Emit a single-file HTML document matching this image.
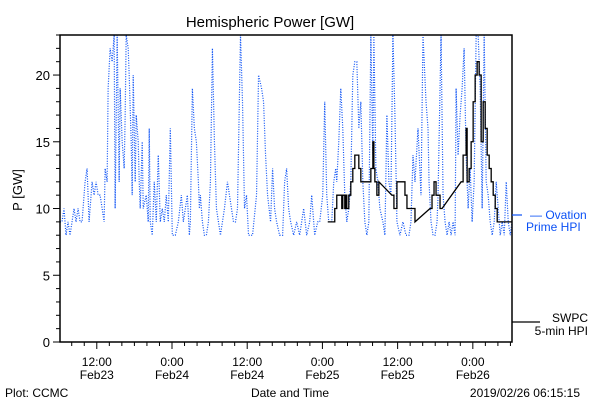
<!DOCTYPE html>
<html><head><meta charset="utf-8"><style>
body{margin:0;background:#fff;}
svg{display:block;font-family:"Liberation Sans",sans-serif;}
</style></head><body>
<svg id="chart" width="600" height="400" viewBox="0 0 600 400">
<rect width="600" height="400" fill="#fff"/>
<text x="270" y="27" font-size="15" text-anchor="middle">Hemispheric Power [GW]</text>
<text x="22" y="190" font-size="13" text-anchor="middle" transform="rotate(-90 22 190)">P [GW]</text>
<text x="290" y="397" font-size="12" text-anchor="middle">Date and Time</text>
<text x="5" y="397" font-size="12">Plot: CCMC</text>
<text x="580" y="397" font-size="12" text-anchor="end">2019/02/26 06:15:15</text>
<defs><clipPath id="pc"><rect x="60" y="35" width="452" height="307"/></clipPath></defs>
<g id="axes"></g>
<g id="series" clip-path="url(#pc)"></g>
<rect x="60" y="35" width="452" height="307" fill="none" stroke="#000" stroke-width="1.5"/>
<g>
<line x1="512" y1="215" x2="522" y2="215" stroke="#0a50f5" stroke-width="1.2"/>
<text x="530" y="219" font-size="12" fill="#0a50f5">— Ovation</text>
<text x="526" y="231" font-size="12" fill="#0a50f5">Prime HPI</text>
</g>
<g>
<line x1="512" y1="322" x2="540" y2="322" stroke="#000" stroke-width="1.2"/>
<text x="588" y="322" font-size="12" text-anchor="end">SWPC</text>
<text x="588" y="335" font-size="12" text-anchor="end">5-min HPI</text>
</g>
</svg>
<script>
// hours since 2019-02-23 00:00
const xDomain = [6.13, 78.25];
const yDomain = [0, 23];
const yTicks = [0, 5, 10, 15, 20];
const xTickHours = [12, 24, 36, 48, 60, 72];
const xTickTimes = ["12:00", "0:00", "12:00", "0:00", "12:00", "0:00"];
const xTickDates = ["Feb23", "Feb24", "Feb24", "Feb25", "Feb25", "Feb26"];
const ovationHours = [6.13,6.45,6.77,7.09,7.41,7.73,8.05,8.37,8.69,9.01,9.33,9.65,10.13,10.45,10.77,11.25,11.57,11.89,12.21,12.53,12.85,13.17,13.33,13.65,13.81,14.13,14.45,14.77,14.93,15.25,15.57,15.73,16.05,16.37,16.53,16.69,17.01,17.17,17.49,17.65,17.81,18.13,18.29,18.61,18.77,18.93,19.25,19.41,19.89,20.21,20.37,20.53,20.85,21.17,21.49,21.81,22.13,22.45,22.77,23.09,23.41,23.73,24.05,24.53,25.01,25.49,25.81,26.13,26.45,26.77,26.93,27.25,27.57,27.89,28.21,28.37,28.53,28.85,29.17,29.49,29.81,30.13,30.45,30.77,31.09,31.41,31.73,32.05,32.37,32.85,33.17,33.49,33.81,34.13,34.45,34.93,35.25,35.57,35.89,36.21,36.85,37.49,37.81,38.29,38.61,38.93,39.25,39.73,40.05,40.37,40.69,41.17,41.65,41.97,42.29,42.61,42.93,43.41,43.89,44.37,45.01,45.49,45.97,46.29,46.77,47.25,47.57,48.05,48.37,48.69,49.01,49.49,49.81,50.13,50.29,50.61,50.93,51.25,51.57,51.89,52.21,52.53,52.85,53.17,53.49,53.81,54.13,54.45,54.77,55.09,55.41,55.73,56.05,56.21,56.53,56.85,57.17,57.65,57.97,58.29,58.61,58.93,59.25,59.57,59.89,60.37,60.85,61.33,61.81,62.13,62.45,62.77,63.25,63.73,64.05,64.53,64.85,65.01,65.33,65.65,65.97,66.29,66.45,66.93,67.25,67.57,67.89,68.21,68.53,68.85,69.17,69.33,69.65,69.97,70.29,70.61,70.93,71.25,71.57,71.89,72.21,72.53,72.85,73.17,73.49,73.81,74.13,74.45,74.77,75.09,75.41,75.73,76.05,76.37,76.69,77.01,77.33,77.65,77.97,78.25];
const ovationValues = [9,9,10,8,9,8,9,10,9,10,9,9,12,13,9,12,11,12,11,11,10,9,13,12,19,22,21,23,10,23,12,19,15,13,17,23,22,20,15,11,20,12,17,15,12,10,15,10,11,9,16,9,8,12,9,14,9,10,9,11,9,16,8,8,9,11,9,10,11,8,9,19,16,15,12,10,11,9,8,8,9,12,22,15,10,9,8,9,10,12,11,10,9,9,10,23,18,10,11,8,8,11,20,19,18,14,11,9,13,10,9,8,8,12,13,10,9,8,9,8,10,8,9,11,8,9,9,11,18,11,9,9,12,13,12,15,19,16,11,9,10,12,20,21,21,16,18,12,9,8,9,23,14,23,13,12,10,9,8,17,12,11,23,17,9,8,9,8,8,9,14,12,16,11,23,18,16,12,9,8,8,9,11,23,11,9,8,9,8,9,8,19,14,17,19,22,14,10,13,9,12,23,23,19,10,23,12,11,9,8,9,12,10,8,9,8,12,9,8,9];
const swpcHours = [48.85,49.97,50.29,51.09,51.25,51.57,51.73,51.89,52.21,52.53,52.85,53.17,53.81,54.13,55.73,56.05,56.21,56.37,56.69,57.01,59.09,59.41,59.89,61.17,61.49,62.77,65.17,65.49,65.81,66.13,66.77,67.09,70.13,70.45,70.93,71.09,71.41,71.73,72.05,72.37,72.69,73.01,73.33,73.65,73.97,74.29,74.61,74.93,75.25,75.57,75.89,78.25];
const swpcValues = [9,10,11,10,11,10,11,10,11,12,13,14,13,12,13,15,13,12,11,12,11,10,12,11,10,9,10,11,12,11,10,10,12,14,16,12,13,15,18,20,21,20,15,18,16,14,13,12,11,10,9,9];

const NS = "http://www.w3.org/2000/svg";
const L = 60, R = 512, T = 35, B = 342;
function xs(h){ return L + (h - xDomain[0]) / (xDomain[1] - xDomain[0]) * (R - L); }
function ys(v){ return B - (v - yDomain[0]) / (yDomain[1] - yDomain[0]) * (B - T); }
function mk(tag, attrs, parent){ const e = document.createElementNS(NS, tag); for (const k in attrs) e.setAttribute(k, attrs[k]); parent.appendChild(e); return e; }

const axes = document.getElementById("axes");
const series = document.getElementById("series");
for (let v = yDomain[0]; v <= yDomain[1]; v++) {
  const major = yTicks.includes(v);
  const t = mk("line", {x1: L - (major ? 7 : 4), x2: L, y1: ys(v), y2: ys(v), stroke: "#000"}, axes);
  
  
}
yTicks.forEach(v => {
  const t = mk("text", {x: L - 10, y: ys(v) + 5, "font-size": 13, "text-anchor": "end"}, axes);
  t.textContent = v;
  
  
});
for (let h = 8; h <= xDomain[1]; h += 2) {
  const major = xTickHours.includes(h);
  const t = mk("line", {x1: xs(h), x2: xs(h), y1: B, y2: B + (major ? 7 : 4), stroke: "#000"}, axes);
  
  
}
xTickHours.forEach((h, i) => {
  const a = mk("text", {x: xs(h), y: 366, "font-size": 12, "text-anchor": "middle"}, axes);
  a.textContent = xTickTimes[i];
  
  
  const b = mk("text", {x: xs(h), y: 379, "font-size": 12, "text-anchor": "middle"}, axes);
  b.textContent = xTickDates[i];
  
  
});
let d = "";
ovationHours.forEach((h, i) => { d += (i ? "L" : "M") + xs(h).toFixed(2) + " " + ys(ovationValues[i]).toFixed(2); });
const ov = mk("path", {d: d, fill: "none", stroke: "#0a50f5", "stroke-width": 1.2, "stroke-dasharray": "1 1.5"}, series);


let s = "";
swpcHours.forEach((h, i) => {
  const x = xs(h), y = ys(swpcValues[i]);
  if (i === 0) { s += "M" + x + " " + y; return; }
  const gap = h - swpcHours[i - 1];
  if (gap > 2) s += "L" + x + " " + y;
  else s += "H" + x + "V" + y;
});
const sw = mk("path", {d: s, fill: "none", stroke: "#000", "stroke-width": 1.3}, series);


</script>
</body></html>
